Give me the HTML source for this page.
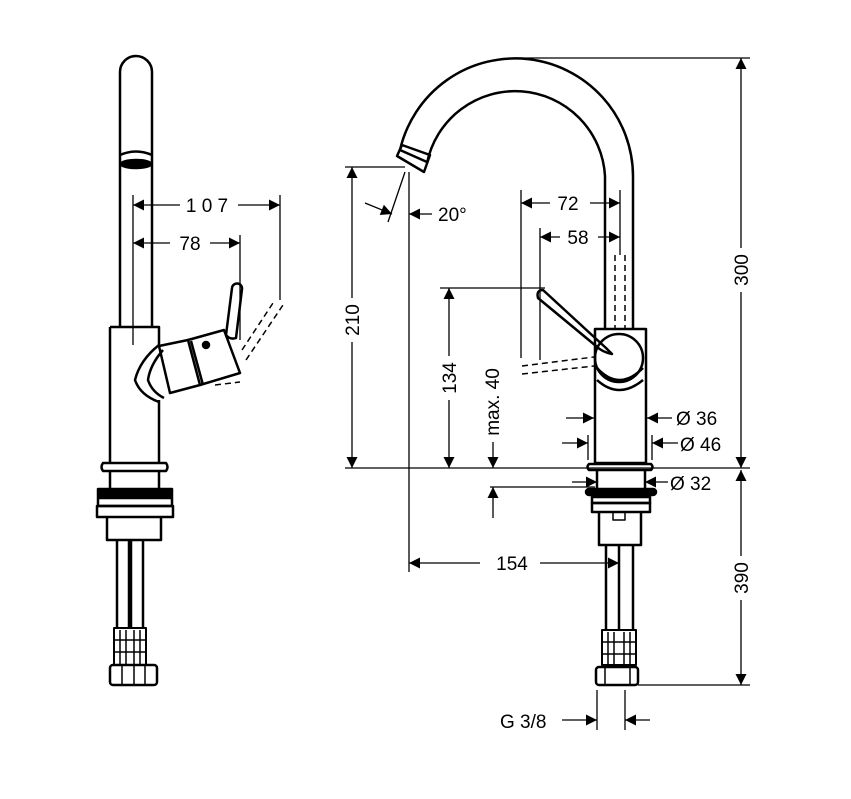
<!DOCTYPE html>
<html><head><meta charset="utf-8"><style>
html,body{margin:0;padding:0;background:#fff;}
svg{display:block;}
text{font-family:"Liberation Sans",sans-serif;font-size:19px;fill:#000;}
</style></head><body>
<svg width="851" height="799" viewBox="0 0 851 799" xmlns="http://www.w3.org/2000/svg">
<defs>
<marker id="a" viewBox="0 0 10 10" refX="10" refY="5" markerWidth="17" markerHeight="11" markerUnits="userSpaceOnUse" orient="auto"><path d="M0,0 L10,5 L0,10 z" fill="#000"/></marker>
</defs>
<g fill="none" stroke="#000" stroke-width="2.5" stroke-linejoin="round">
<!-- LEFT FAUCET -->
<path d="M120,327 L120,72 A16,16 0 0 1 152,72 L152,327"/>
<path d="M120,155 Q136,148 152,155"/>
<ellipse cx="136" cy="164" rx="15" ry="4" fill="#000"/>
<path d="M110,327 L159,327 L159,345 M110,327 L110,462"/>
<path d="M159,400 L159,462"/>
<path d="M159,345 Q140,360 135,380 Q140,395 159,402"/>
<path d="M163,350 Q150,365 148,380 Q152,392 164,398"/>
<path d="M159,346 L188,340 L200,385 L170,393 Z"/>
<path d="M188,340 L224,330 L240,373 L200,385"/>
<path d="M191,341 L203,385"/>
<circle cx="206" cy="345" r="3" fill="#000"/>
<path d="M226,335 L232,288 A5,5 0 0 1 242,289 L236,338 Q230,340 226,335 Z"/>
<g stroke-width="1.5" stroke-dasharray="6,4"><path d="M242,350 L275,300 M246,360 L283,305 M215,385 L240,382"/></g>
<path d="M103,463 L166,463 Q169,467 166,471 L103,471 Q100,467 103,463 Z"/>
<path d="M110,471 L110,488 M159,471 L159,488"/>
<rect x="98" y="489" width="74" height="8" fill="#000"/>
<rect x="98" y="498" width="74" height="8"/>
<rect x="97" y="506" width="76" height="11"/>
<path d="M107,517 L107,540 L161,540 L161,517"/>
<path d="M117,540 L117,628 M129,540 L129,628 M131,540 L131,628 M143,540 L143,628"/>
<path d="M114,628 L146,628 L146,665 L114,665 Z" stroke-width="2"/>
<path d="M120,630 L120,665 M126,630 L126,665 M134,630 L134,665 M140,630 L140,665" stroke-width="1.5"/>
<path d="M114,640 L146,640 M114,652 L146,652" stroke-width="1.5"/>
<rect x="110" y="665" width="47" height="20" rx="3"/>
<path d="M122,665 L122,685 M134,665 L134,685 M145,665 L145,685" stroke-width="1.5"/>

<!-- RIGHT FAUCET -->
<path d="M633,328 L633,176 A118,118 0 0 0 400,150"/>
<path d="M605,328 L605,176 A90,90 0 0 0 427,163"/>
<path d="M397,156 L402,145 L430,155 L424,172 Z"/>
<path d="M400,150 L427,162"/>
<g stroke-width="1.5" stroke-dasharray="6,4"><path d="M615,255 L615,330 M625,255 L625,330"/>
<path d="M522,366 L594,357 M522,374 L594,366"/></g>
<rect x="595" y="329" width="51" height="134"/>
<circle cx="619" cy="358" r="24"/>
<path d="M597,368 Q619,392 643,368"/>
<path d="M597,380 Q619,400 643,380"/>
<path d="M543,290 L606,348 L612,354 Q602,352 596,346 L538,298 Q536,290 543,290 Z"/>
<path d="M589,464 L651,464 Q654,467 651,470 L589,470 Q586,467 589,464 Z"/>
<path d="M597,470 L597,488 M645,470 L645,488"/>
<rect x="586" y="489" width="70" height="6" rx="3" fill="#000"/>
<rect x="592" y="497" width="58" height="6"/>
<rect x="592" y="503" width="58" height="9"/>
<path d="M599,512 L599,545 L641,545 L641,512"/>
<path d="M613,512 L625,512 L625,520 L613,520 Z" stroke-width="1.5"/>
<path d="M606,545 L606,630 M619,545 L619,630 M633,545 L633,630"/>
<path d="M602,630 L636,630 L636,665 L602,665 Z" stroke-width="2"/>
<path d="M608,632 L608,665 M614,632 L614,665 M624,632 L624,665 M630,632 L630,665" stroke-width="1.5"/>
<path d="M602,642 L636,642 M602,654 L636,654" stroke-width="1.5"/>
<rect x="596" y="667" width="42" height="18" rx="3"/>
<path d="M605,667 L605,685 M630,667 L630,685" stroke-width="1.5"/>
</g>

<!-- DIMENSIONS -->
<g fill="none" stroke="#000" stroke-width="1.3">
<path d="M133,195 L133,345 M280,195 L280,300 M240,235 L240,340"/>
<path d="M180,205 L133,205" marker-end="url(#a)"/><path d="M238,205 L280,205" marker-end="url(#a)"/>
<path d="M170,243 L133,243" marker-end="url(#a)"/><path d="M210,243 L240,243" marker-end="url(#a)"/>
<path d="M345,468 L750,468 M490,487 L595,487"/>
<path d="M515,58 L750,58 M638,685 L750,685 M345,167 L405,167 M440,288 L545,288"/>
<path d="M741,248 L741,58" marker-end="url(#a)"/><path d="M741,292 L741,468" marker-end="url(#a)"/>
<path d="M741,556 L741,470" marker-end="url(#a)"/><path d="M741,600 L741,685" marker-end="url(#a)"/>
<path d="M352,298 L352,167" marker-end="url(#a)"/><path d="M352,342 L352,468" marker-end="url(#a)"/>
<path d="M449,356 L449,288" marker-end="url(#a)"/><path d="M449,400 L449,468" marker-end="url(#a)"/>
<path d="M493,442 L493,468" marker-end="url(#a)"/><path d="M493,518 L493,487" marker-end="url(#a)"/>
<path d="M409,172 L409,572 M405,172 L388,222"/>
<path d="M365,203 L392,214" marker-end="url(#a)"/>
<path d="M432,214 L409,214" marker-end="url(#a)"/>
<path d="M521,190 L521,358 M540,228 L540,360 M620,190 L620,255"/>
<path d="M550,203 L521,203" marker-end="url(#a)"/><path d="M590,203 L620,203" marker-end="url(#a)"/>
<path d="M560,237 L540,237" marker-end="url(#a)"/><path d="M598,237 L620,237" marker-end="url(#a)"/>
<path d="M566,418 L594,418" marker-end="url(#a)"/><path d="M672,418 L647,418" marker-end="url(#a)"/>
<path d="M588,435 L588,460 M652,435 L652,460"/>
<path d="M562,443 L588,443" marker-end="url(#a)"/><path d="M678,443 L652,443" marker-end="url(#a)"/>
<path d="M572,482 L597,482" marker-end="url(#a)"/><path d="M668,482 L645,482" marker-end="url(#a)"/>
<path d="M480,563 L409,563" marker-end="url(#a)"/><path d="M540,563 L619,563" marker-end="url(#a)"/>
<path d="M597,690 L597,730 M625,690 L625,730"/>
<path d="M562,720 L597,720" marker-end="url(#a)"/><path d="M650,720 L625,720" marker-end="url(#a)"/>
</g>

<g>
<text x="207" y="212" text-anchor="middle">1 0 7</text>
<text x="190" y="250" text-anchor="middle">78</text>
<text x="438" y="221">20°</text>
<text x="568" y="210" text-anchor="middle">72</text>
<text x="578" y="244" text-anchor="middle">58</text>
<text x="676" y="425">Ø 36</text>
<text x="680" y="451">Ø 46</text>
<text x="670" y="490">Ø 32</text>
<text x="512" y="570" text-anchor="middle">154</text>
<text x="500" y="728">G 3/8</text>
<text transform="translate(748,270) rotate(-90)" text-anchor="middle">300</text>
<text transform="translate(748,578) rotate(-90)" text-anchor="middle">390</text>
<text transform="translate(359,320) rotate(-90)" text-anchor="middle">210</text>
<text transform="translate(456,378) rotate(-90)" text-anchor="middle">134</text>
<text transform="translate(499,402) rotate(-90)" text-anchor="middle">max. 40</text>
</g>
</svg>
</body></html>
